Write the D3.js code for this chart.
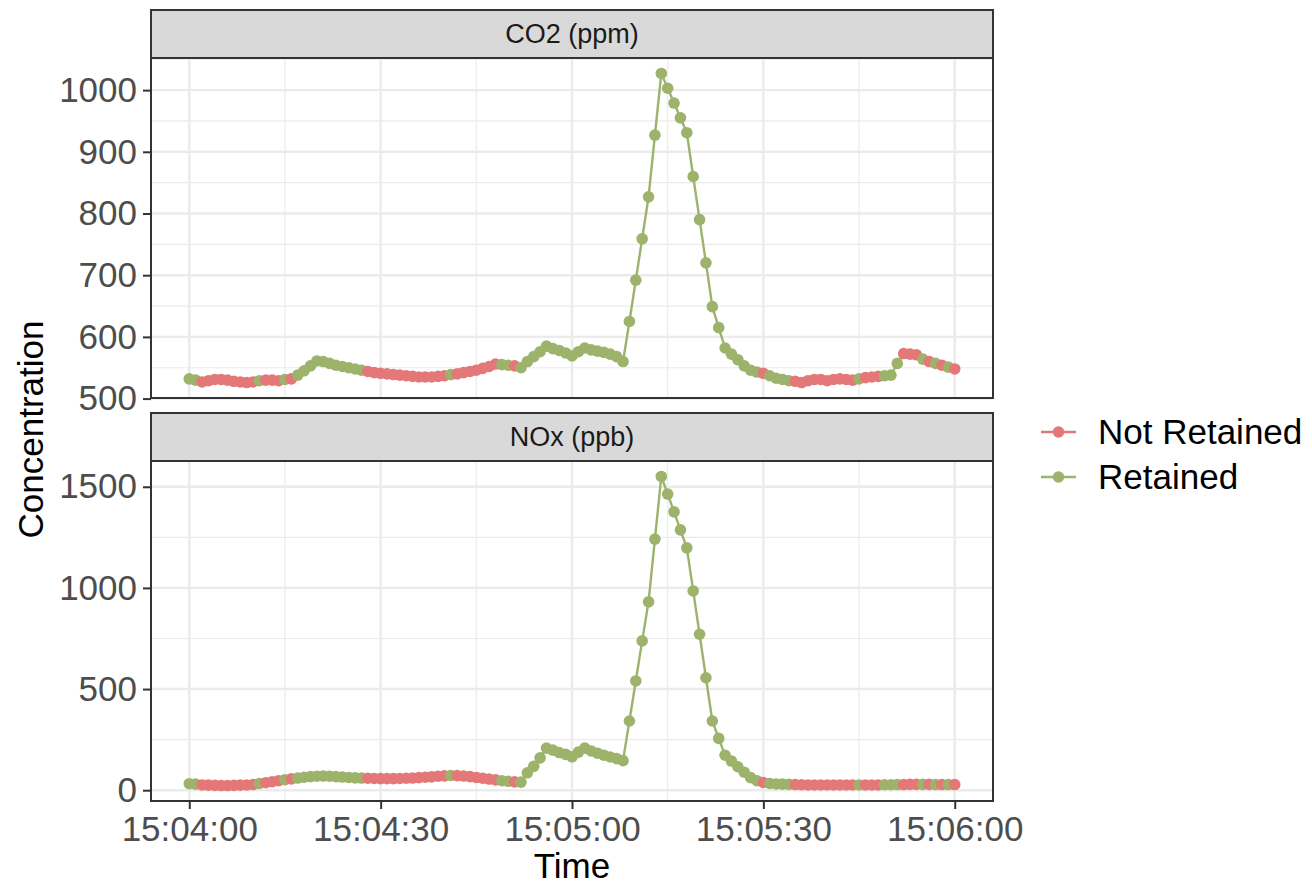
<!DOCTYPE html>
<html>
<head>
<meta charset="utf-8">
<script src="https://cdn.jsdelivr.net/npm/d3@7"></script>
<style>
body{margin:0;background:#fff;}
svg{display:block;font-family:"Liberation Sans",Arial,sans-serif;}
</style>
</head>
<body>
<svg id="myGraph" width="1312" height="886"></svg>
<script>
// one reading per second, starting at this time
var startTime = "15:04:00";

var co2 = [532,530,527,529,531,531,530,528,527,526,
	527,529,530,530,529,531,532,538,545,553,
	561,560,557,554,552,550,548,546,544,542,
	541,540,539,538,537,536,535,535,535,536,
	537,539,540,542,544,546,549,552,556,555,
	554,553,550,560,568,576,585,581,578,574,
	569,576,582,579,577,575,572,568,560,625,
	692,759,827,927,1027,1003,979,955,931,860,
	790,720,649,615,582,572,563,553,546,543,
	541,537,533,531,529,528,526,529,531,531,
	529,531,532,531,530,532,534,535,536,537,
	538,557,573,572,571,564,560,557,554,551,
	548];

var nox = [32,30,26,25,24,23,23,24,25,26,
	28,33,37,42,47,52,56,60,64,67,
	69,70,69,67,65,63,61,60,59,58,
	57,57,57,58,59,60,62,64,66,69,
	71,73,72,70,67,63,59,55,51,47,
	44,41,40,86,118,160,208,198,186,177,
	165,188,208,194,183,173,164,156,146,342,
	540,738,931,1241,1551,1464,1376,1287,1198,985,
	771,556,342,256,173,144,116,89,62,47,
	38,33,31,30,29,28,27,26,26,26,
	26,26,26,26,26,26,26,26,26,27,
	27,28,28,29,29,29,29,28,28,28,
	28];

// 1 = Retained, 0 = Not Retained
var retained = [1,1,0,0,0,0,0,0,0,0,
	0,1,0,0,0,1,0,1,1,1,
	1,1,1,1,1,1,1,1,0,0,
	0,0,0,0,0,0,0,0,0,0,
	0,1,0,0,0,0,0,0,0,1,
	1,0,1,1,1,1,1,1,1,1,
	1,1,1,1,1,1,1,1,1,1,
	1,1,1,1,1,1,1,1,1,1,
	1,1,1,1,1,1,1,1,1,1,
	0,1,1,1,1,0,0,0,0,0,
	0,0,0,0,0,1,0,0,0,1,
	1,1,0,0,0,1,0,1,0,1,
	0];

var statusNames = ["Not Retained","Retained"];
var statusColors = ["#E47878","#9DB36C"];
var facetNames = ["CO2 (ppm)","NOx (ppb)"];
var xTickLabels = ["15:04:00","15:04:30","15:05:00","15:05:30","15:06:00"];
var co2Ticks = [500,600,700,800,900,1000];
var noxTicks = [0,500,1000,1500];

var svg = d3.select("#myGraph");
var left = 151, right = 993;
var panelBoxes = [{strip:10, top:58, bottom:398},{strip:413, top:461, bottom:801}];
var font = "'Liberation Sans',Arial,sans-serif";

var parseTime = d3.timeParse("%H:%M:%S");
var t0 = parseTime(startTime);
var times = co2.map(function(d,i){ return d3.timeSecond.offset(t0,i); });
var xTicks = xTickLabels.map(function(s){ return parseTime(s); });

function expand(ext){
	var pad = (ext[1]-ext[0])*0.05;
	return [ext[0]-pad, ext[1]+pad];
}

var xExt = expand([+times[0], +times[times.length-1]]);
var x = d3.scaleTime().domain([new Date(xExt[0]), new Date(xExt[1])]).range([left,right]);

var xMinor = [];
for(var i=0;i<xTicks.length-1;i++){
	xMinor.push(new Date((+xTicks[i] + +xTicks[i+1])/2));
}

var panels = [
	{name:facetNames[0], values:co2, ticks:co2Ticks},
	{name:facetNames[1], values:nox, ticks:noxTicks}
];

panels.forEach(function(p,k){
	var box = panelBoxes[k];
	var y = d3.scaleLinear().domain(expand(d3.extent(p.values))).range([box.bottom, box.top]);
	var dom = y.domain();
	var step = p.ticks[1]-p.ticks[0];
	var yMinor = [];
	for(var v=p.ticks[0]-step/2; v<=dom[1]; v+=step){
		if(v>=dom[0]) yMinor.push(v);
	}

	var g = svg.append("g");

	g.append("rect")
	.attr("x",left).attr("y",box.top)
	.attr("width",right-left).attr("height",box.bottom-box.top)
	.attr("fill","#fff");

	// minor grid
	g.selectAll(".hmin").data(yMinor).enter().append("line")
	.attr("x1",left).attr("x2",right)
	.attr("y1",function(d){return y(d);}).attr("y2",function(d){return y(d);})
	.attr("stroke","#EBEBEB").attr("stroke-width",1.2);
	g.selectAll(".vmin").data(xMinor).enter().append("line")
	.attr("y1",box.top).attr("y2",box.bottom)
	.attr("x1",function(d){return x(d);}).attr("x2",function(d){return x(d);})
	.attr("stroke","#EBEBEB").attr("stroke-width",1.2);

	// major grid
	g.selectAll(".hmaj").data(p.ticks).enter().append("line")
	.attr("x1",left).attr("x2",right)
	.attr("y1",function(d){return y(d);}).attr("y2",function(d){return y(d);})
	.attr("stroke","#EBEBEB").attr("stroke-width",2.4);
	g.selectAll(".vmaj").data(xTicks).enter().append("line")
	.attr("y1",box.top).attr("y2",box.bottom)
	.attr("x1",function(d){return x(d);}).attr("x2",function(d){return x(d);})
	.attr("stroke","#EBEBEB").attr("stroke-width",2.4);

	// line segments, coloured by the status of their starting point
	var segs = d3.range(p.values.length-1);
	g.selectAll(".seg").data(segs).enter().append("line")
	.attr("x1",function(i){return x(times[i]);})
	.attr("y1",function(i){return y(p.values[i]);})
	.attr("x2",function(i){return x(times[i+1]);})
	.attr("y2",function(i){return y(p.values[i+1]);})
	.attr("stroke",function(i){return statusColors[retained[i]];})
	.attr("stroke-width",2.4);

	g.selectAll(".pt").data(p.values).enter().append("circle")
	.attr("cx",function(d,i){return x(times[i]);})
	.attr("cy",function(d){return y(d);})
	.attr("r",5.8)
	.attr("fill",function(d,i){return statusColors[retained[i]];});

	// panel border
	g.append("rect")
	.attr("x",left).attr("y",box.top)
	.attr("width",right-left).attr("height",box.bottom-box.top)
	.attr("fill","none").attr("stroke","#333").attr("stroke-width",2);

	// strip
	g.append("rect")
	.attr("x",left).attr("y",box.strip)
	.attr("width",right-left).attr("height",box.top-box.strip)
	.attr("fill","#D9D9D9").attr("stroke","#333").attr("stroke-width",2);
	g.append("text")
	.attr("x",(left+right)/2).attr("y",(box.strip+box.top)/2)
	.attr("dy","0.35em")
	.attr("text-anchor","middle")
	.attr("font-size",27)
	.attr("fill","#1A1A1A")
	.text(p.name);

	// y axis
	var yAxis = d3.axisLeft(y).tickValues(p.ticks).tickFormat(d3.format("d")).tickSize(8).tickPadding(6);
	var ya = svg.append("g").attr("transform","translate("+left+",0)").call(yAxis);
	ya.select(".domain").remove();
	ya.selectAll(".tick line").attr("stroke","#333").attr("stroke-width",2);
	ya.selectAll(".tick text").attr("font-size",35).attr("fill","#4D4D4D").attr("font-family",font);

	if(k==1){
		var xAxis = d3.axisBottom(x).tickValues(xTicks).tickFormat(d3.timeFormat("%H:%M:%S")).tickSize(8).tickPadding(7);
		var xa = svg.append("g").attr("transform","translate(0,"+box.bottom+")").call(xAxis);
		xa.select(".domain").remove();
		xa.selectAll(".tick line").attr("stroke","#333").attr("stroke-width",2);
		xa.selectAll(".tick text").attr("font-size",35).attr("fill","#4D4D4D").attr("font-family",font);
	}
});

// axis titles
svg.append("text")
.attr("x",(left+right)/2).attr("y",878)
.attr("text-anchor","middle").attr("font-size",35).attr("fill","#000")
.text("Time");
svg.append("text")
.attr("transform","translate(43,"+((panelBoxes[0].top+panelBoxes[1].bottom)/2)+") rotate(-90)")
.attr("text-anchor","middle").attr("font-size",35).attr("fill","#000")
.text("Concentration");

// legend
var legend = svg.selectAll(".legend").data(statusNames).enter().append("g")
.attr("transform",function(d,i){return "translate(1041,"+(432+i*45)+")";});
legend.append("line")
.attr("x1",0).attr("x2",35).attr("y1",0).attr("y2",0)
.attr("stroke",function(d,i){return statusColors[i];}).attr("stroke-width",2.4);
legend.append("circle")
.attr("cx",17.5).attr("cy",0).attr("r",5.8)
.attr("fill",function(d,i){return statusColors[i];});
legend.append("text")
.attr("x",57).attr("y",0).attr("dy","0.35em")
.attr("font-size",35).attr("fill","#000")
.text(function(d){return d;});
</script>
</body>
</html>
